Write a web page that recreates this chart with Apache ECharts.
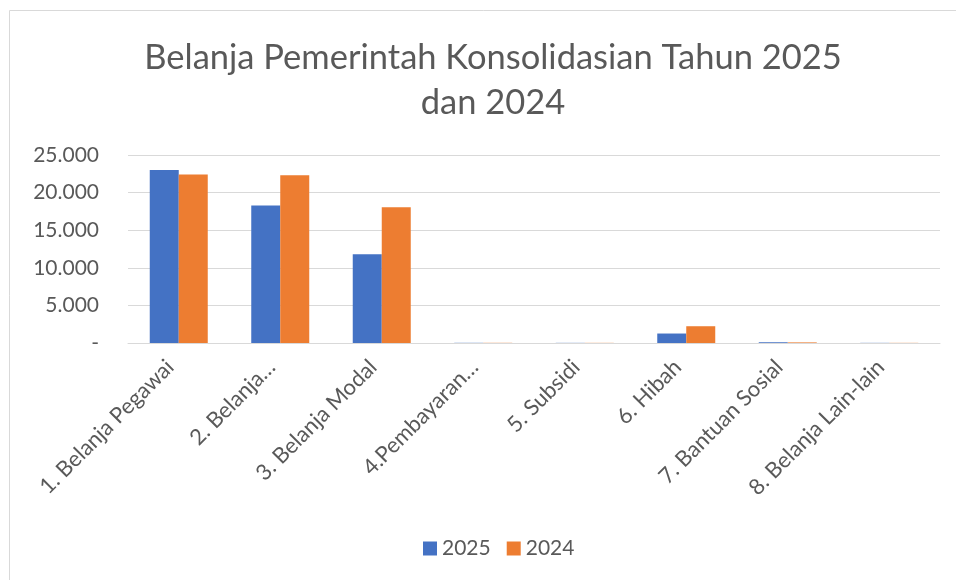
<!DOCTYPE html>
<html>
<head>
<meta charset="utf-8">
<script src="https://cdn.jsdelivr.net/npm/echarts@6/dist/echarts.min.js"></script>
<style>
  html, body { margin: 0; padding: 0; background: #fff; }
  #main { width: 956px; height: 580px; }
</style>
</head>
<body>
<div id="main"></div>
<script>
const categories = [
  "1. Belanja Pegawai",
  "2. Belanja…",
  "3. Belanja Modal",
  "4.Pembayaran…",
  "5. Subsidi",
  "6. Hibah",
  "7. Bantuan Sosial",
  "8. Belanja Lain-lain",
];
const values2025 = [23000, 18300, 11800, 25, 20, 1260, 100, 20];
const values2024 = [22400, 22300, 18050, 25, 20, 2230, 80, 20];
const seriesNames = ["2025", "2024"];

let fmt = (v) => {
  if (v === 0) return "-";
  return String(v).replace(/\B(?=(\d{3})+(?!\d))/g, ".");
};

let chart = echarts.init(document.getElementById("main"));
let option = {
  textStyle: { fontFamily: "Lato" },
  title: {
    text: "Belanja Pemerintah Konsolidasian Tahun 2025\ndan 2024",
    left: 488,
    top: 30,
    textAlign: "center",
    textStyle: {
      fontFamily: "Lato",
      fontSize: 34.5,
      fontWeight: "normal",
      color: "#595959",
      lineHeight: 45,
    },
  },
  legend: {
    data: seriesNames,
    bottom: 16,
    left: 418,
    icon: "rect",
    itemWidth: 14,
    itemHeight: 14,
    itemGap: 16,
    textStyle: { fontFamily: "Lato", fontSize: 21, color: "#595959" },
  },
  graphic: [
    {
      type: "rect",
      shape: { x: 9.5, y: 10.5, width: 1000, height: 1000 },
      style: { fill: "none", stroke: "#d9d9d9", lineWidth: 1 },
      silent: true,
    },
  ],
  grid: { left: 128, right: 16, top: 155, bottom: 237 },
  xAxis: {
    type: "category",
    data: categories,
    axisLine: { lineStyle: { color: "#d9d9d9", width: 1 } },
    axisTick: { show: false },
    axisLabel: {
      rotate: 45,
      interval: 0,
      margin: 12,
      padding: [0, 12, 0, 0],
      fontFamily: "Lato",
      fontSize: 22,
      color: "#595959",
    },
  },
  yAxis: {
    type: "value",
    min: 0,
    max: 25000,
    interval: 5000,
    axisLine: { show: false },
    axisTick: { show: false },
    axisLabel: {
      margin: 29,
      fontFamily: "Lato",
      fontSize: 21,
      color: "#595959",
      formatter: fmt,
    },
    splitLine: { lineStyle: { color: "#d9d9d9", width: 1 } },
  },
  series: [
    {
      name: seriesNames[0],
      type: "bar",
      data: values2025,
      barWidth: 29,
      barGap: "0%",
      itemStyle: { color: "#4472c4" },
    },
    {
      name: seriesNames[1],
      type: "bar",
      data: values2024,
      barWidth: 29,
      barGap: "0%",
      itemStyle: { color: "#ed7d31" },
    },
  ],
};
chart.setOption(option);
</script>
</body>
</html>
